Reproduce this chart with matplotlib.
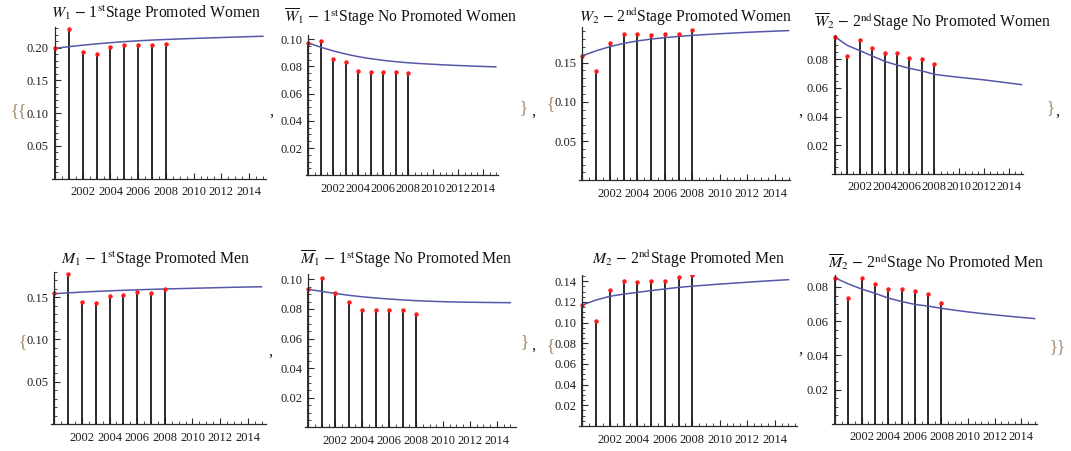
import numpy as np
import matplotlib
matplotlib.use('Agg')
import matplotlib.pyplot as plt
from matplotlib.ticker import MultipleLocator, AutoMinorLocator

plt.rcParams['font.family'] = ['Liberation Serif', 'DejaVu Serif']
plt.rcParams['mathtext.fontset'] = 'stix'

years = np.arange(2000, 2009)
fit_years = np.arange(2000, 2016)

# observed shares (points / stems)
w1_obs = [0.1999, 0.228, 0.194, 0.190, 0.2014, 0.2035, 0.2035, 0.2035, 0.2055]
w1b_obs = [0.0974, 0.0983, 0.0851, 0.0834, 0.0768, 0.0761, 0.0761, 0.0761, 0.0751]
w2_obs = [0.1587, 0.1387, 0.1753, 0.186, 0.186, 0.1847, 0.186, 0.186, 0.191]
w2b_obs = [0.0959, 0.0826, 0.0934, 0.0882, 0.0847, 0.0847, 0.0812, 0.0803, 0.0768]
m1_obs = [0.1545, 0.177, 0.1447, 0.1427, 0.1514, 0.153, 0.156, 0.1545, 0.159]
m1b_obs = [0.0937, 0.1012, 0.0908, 0.085, 0.0793, 0.0793, 0.0793, 0.0793, 0.0768]
m2_obs = [0.1174, 0.1013, 0.1318, 0.1402, 0.139, 0.1402, 0.1402, 0.1437, 0.146]
m2b_obs = [0.0853, 0.0735, 0.0855, 0.0816, 0.0788, 0.0788, 0.0775, 0.0757, 0.0704]

# model curves 2000-2015
w1_fit = [0.1990, 0.2015, 0.2038, 0.2058, 0.2076, 0.2092, 0.2105, 0.2116,
          0.2125, 0.2133, 0.2141, 0.2148, 0.2155, 0.2162, 0.2168, 0.2174]
w1b_fit = [0.0972, 0.0940, 0.0913, 0.0890, 0.0871, 0.0856, 0.0844, 0.0834,
           0.0826, 0.0820, 0.0815, 0.0810, 0.0806, 0.0802, 0.0799, 0.0796]
w2_fit = [0.1587, 0.1650, 0.1703, 0.1745, 0.1776, 0.1800, 0.1818, 0.1834,
          0.1847, 0.1858, 0.1868, 0.1877, 0.1886, 0.1894, 0.1901, 0.1908]
w2b_fit = [0.0959, 0.0898, 0.0861, 0.0824, 0.0786, 0.0760, 0.0737, 0.0719,
           0.0695, 0.0684, 0.0674, 0.0665, 0.0656, 0.0645, 0.0634, 0.0623]
m1_fit = [0.1540, 0.1550, 0.1559, 0.1567, 0.1574, 0.1580, 0.1586, 0.1591,
          0.1596, 0.1600, 0.1604, 0.1608, 0.1612, 0.1616, 0.1619, 0.1622]
m1b_fit = [0.0933, 0.0918, 0.0905, 0.0892, 0.0882, 0.0874, 0.0867, 0.0861,
           0.0856, 0.0852, 0.0849, 0.0847, 0.0845, 0.0844, 0.0843, 0.0842]
m2_fit = [0.1170, 0.1218, 0.1254, 0.1275, 0.1292, 0.1309, 0.1325, 0.1340,
          0.1352, 0.1362, 0.1372, 0.1381, 0.1390, 0.1399, 0.1407, 0.1415]
m2b_fit = [0.0853, 0.0818, 0.0788, 0.0763, 0.0735, 0.0715, 0.0698, 0.0688,
           0.0675, 0.0664, 0.0654, 0.0645, 0.0637, 0.0629, 0.0622, 0.0615]

titles = [r'$W_1$ $-$ 1$^{\mathrm{st}}$Stage Promoted Women',
          r'$\overline{W}_1$ $-$ 1$^{\mathrm{st}}$Stage No Promoted Women',
          r'$W_2$ $-$ 2$^{\mathrm{nd}}$Stage Promoted Women',
          r'$\overline{W}_2$ $-$ 2$^{\mathrm{nd}}$Stage No Promoted Women',
          r'$M_1$ $-$ 1$^{\mathrm{st}}$Stage Promoted Men',
          r'$\overline{M}_1$ $-$ 1$^{\mathrm{st}}$Stage No Promoted Men',
          r'$M_2$ $-$ 2$^{\mathrm{nd}}$Stage Promoted Men',
          r'$\overline{M}_2$ $-$ 2$^{\mathrm{nd}}$Stage No Promoted Men']
obs = [w1_obs, w1b_obs, w2_obs, w2b_obs, m1_obs, m1b_obs, m2_obs, m2b_obs]
fits = [w1_fit, w1b_fit, w2_fit, w2b_fit, m1_fit, m1b_fit, m2_fit, m2b_fit]
ysteps = [0.05, 0.02, 0.05, 0.02, 0.05, 0.02, 0.02, 0.02]

W, H = 1071, 451
fig = plt.figure(figsize=(W / 100, H / 100), dpi=100)

# (y-axis px, axis end px, xmax, bottom px, top px, ymax, title x, title baseline)
layout = [
    (55.0, 265.7, 2015.2, 178.7, 26.7, 0.232, 156, 18),
    (308.3, 497.7, 2015.15, 175.3, 35.0, 0.103, 401, 22),
    (582.3, 790.0, 2015.1, 180.3, 27.3, 0.195, 686, 22),
    (834.7, 1022.7, 2015.1, 173.7, 35.0, 0.097, 932, 27),
    (54.3, 265.7, 2015.3, 424.0, 271.7, 0.180, 156, 264),
    (308.3, 515.7, 2015.4, 427.3, 274.3, 0.1034, 406, 264),
    (582.3, 796.7, 2015.6, 426.0, 275.0, 0.146, 688, 264),
    (835.0, 1037.3, 2015.2, 423.7, 275.0, 0.087, 936, 268),
]

dark = '#2a2a2a'
for i in range(8):
    ya, xe, xmax, yb, yt, ymax, tx, ty = layout[i]
    ppy = (xe - ya) / (xmax - 2000)
    xmin = 2000 - 0.22
    xl = ya - 0.22 * ppy
    ax = fig.add_axes([xl / W, 1 - yb / H, (xe - xl) / W, (yb - yt) / H])
    ax.vlines(years, 0, obs[i], color='#1a1a1a', lw=1.3)
    ax.plot(fit_years, fits[i], color='#5656aa', lw=1.1)
    ax.plot(years, obs[i], 'o', color='#ff1a1a', ms=3.2, mec='none')
    ax.set_xlim(xmin, xmax)
    ax.set_ylim(0, ymax)
    ax.patch.set_visible(False)
    for s in ['top', 'right']:
        ax.spines[s].set_visible(False)
    ax.spines['left'].set_position(('data', 2000))
    for s in ['left', 'bottom']:
        ax.spines[s].set_color(dark)
        ax.spines[s].set_linewidth(0.9)
    xt = np.arange(2002, 2015, 2)
    yt_vals = np.arange(ysteps[i], ymax, ysteps[i])
    ax.set_xticks(xt)
    ax.set_xticklabels([str(v) for v in xt], fontfamily='Liberation Serif')
    ax.set_yticks(yt_vals)
    ax.set_yticklabels(['%.2f' % v for v in yt_vals], fontfamily='Liberation Serif')
    ax.xaxis.set_minor_locator(MultipleLocator(0.5))
    ax.yaxis.set_minor_locator(AutoMinorLocator(5 if ysteps[i] == 0.05 else 4))
    ax.tick_params(which='major', direction='in', length=4, width=0.8,
                   color=dark, labelsize=9, labelcolor='#1e1e1e')
    ax.tick_params(axis='x', which='major', pad=5.5)
    ax.tick_params(axis='y', which='major', pad=4.5)
    ax.tick_params(which='minor', direction='in', length=2, width=0.6, color=dark)
    fig.text(tx / W, 1 - ty / H, titles[i], ha='center', va='baseline',
             fontsize=11.3, color='#111111')

# list punctuation around the panels
brace_col = '#a08868'
marks = [('{{', 18, 111, brace_col), (',', 271, 112, '#222222'),
         ('}', 523, 108, brace_col), (',', 533, 112, '#222222'),
         ('{', 551, 104, brace_col),
         (',', 800, 112, '#222222'), ('}', 1050, 108, brace_col),
         (',', 1057, 112, '#222222'),
         ('{', 23, 342, brace_col), (',', 270, 352, '#222222'),
         ('}', 524, 342, brace_col), (',', 533, 346, '#222222'),
         ('{', 551, 346, brace_col),
         (',', 800, 350, '#222222'), ('}}', 1057, 347, brace_col)]
for txt, x, y, c in marks:
    fig.text(x / W, 1 - y / H, txt, ha='center', va='center', fontsize=12, color=c)

plt.savefig('out.png', dpi=100)
